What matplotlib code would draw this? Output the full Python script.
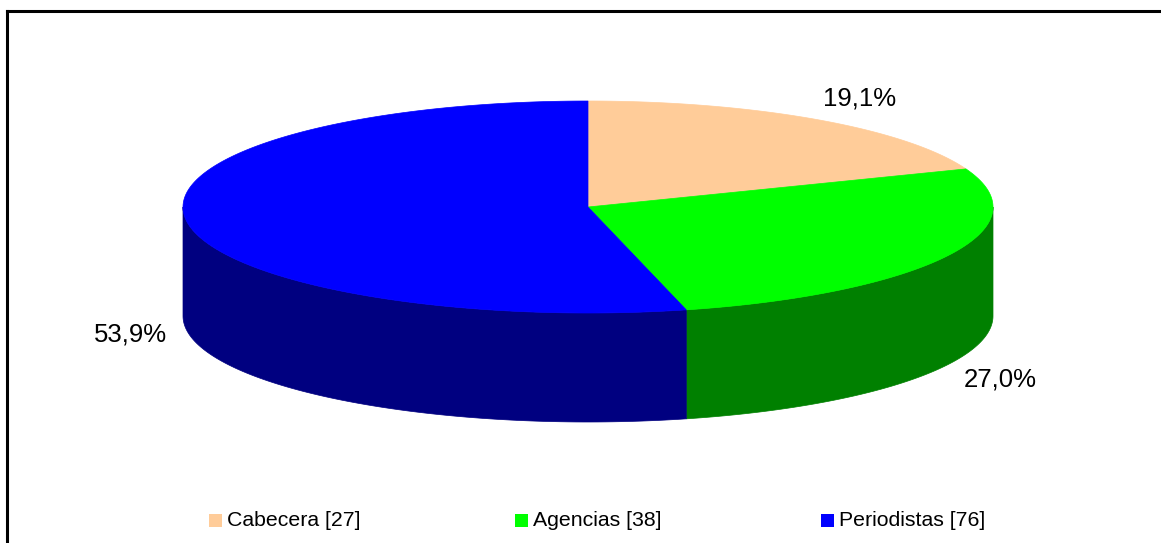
import numpy as np
import matplotlib.pyplot as plt
from matplotlib.patches import Polygon, Rectangle
from matplotlib.lines import Line2D

# Data
labels = ['Cabecera', 'Agencias', 'Periodistas']
counts = [27, 38, 76]
top_colors = ['#FFCC99', '#00FF00', '#0000FF']
side_colors = ['#CC9966', '#008000', '#000080']

plt.rcParams['font.family'] = ['Liberation Sans', 'DejaVu Sans']

fig = plt.figure(figsize=(11.61, 5.43), dpi=100)
ax = fig.add_axes([0, 0, 1, 1])
ax.set_xlim(0, 1161)
ax.set_ylim(543, 0)
ax.axis('off')

# pie geometry (pixels)
cx, cy = 588, 207
a, b = 405, 106
depth = 109


def pt(theta, dy=0.0):
    t = np.radians(theta)
    return np.column_stack([cx + a * np.cos(t), cy - b * np.sin(t) + dy])


total = sum(counts)
fracs = [c / total for c in counts]
starts = []
ang = 90.0
for f in fracs:
    starts.append((ang, ang - 360 * f))
    ang -= 360 * f

# side walls (front half: -180..0 degrees)
for (t0, t1), col in zip(starts, side_colors):
    lo, hi = max(t1, -180), min(t0, 0)
    if hi <= lo:
        continue
    th = np.linspace(hi, lo, 100)
    top = pt(th)
    bot = pt(th[::-1], depth)
    ax.add_patch(Polygon(np.vstack([top, bot]), closed=True, facecolor=col,
                         edgecolor=col, linewidth=0.5))

# top faces
for (t0, t1), col in zip(starts, top_colors):
    th = np.linspace(t0, t1, 200)
    verts = np.vstack([[cx, cy], pt(th)])
    ax.add_patch(Polygon(verts, closed=True, facecolor=col, edgecolor=col,
                         linewidth=0.5))

# percentage labels, placed just outside the pie edge
for (t0, t1), f in zip(starts, fracs):
    mid = (t0 + t1) / 2
    c, s = np.cos(np.radians(mid)), np.sin(np.radians(mid))
    x = cx + a * c + 56 * np.sign(c) * np.sqrt(abs(c))
    y = cy - b * s - 28 * s + 2
    if s < 0:
        y += depth
    txt = f'{f * 100:.1f}%'.replace('.', ',')
    ax.text(x, y, txt, fontsize=18.5, ha='center', va='center', color='black')

# legend
for i, (lab, n, col) in enumerate(zip(labels, counts, top_colors)):
    x0 = 209 + 306 * i
    ax.add_patch(Rectangle((x0, 514), 13, 13, facecolor=col, edgecolor='none'))
    ax.text(x0 + 18, 521, f'{lab} [{n}]', fontsize=15.3, ha='left', va='center')

# frame (top and left borders visible)
ax.add_line(Line2D([7, 1161], [11, 11], color='black', linewidth=2.2))
ax.add_line(Line2D([7, 7], [11, 543], color='black', linewidth=2.2))

fig.savefig('out.png', dpi=100)
